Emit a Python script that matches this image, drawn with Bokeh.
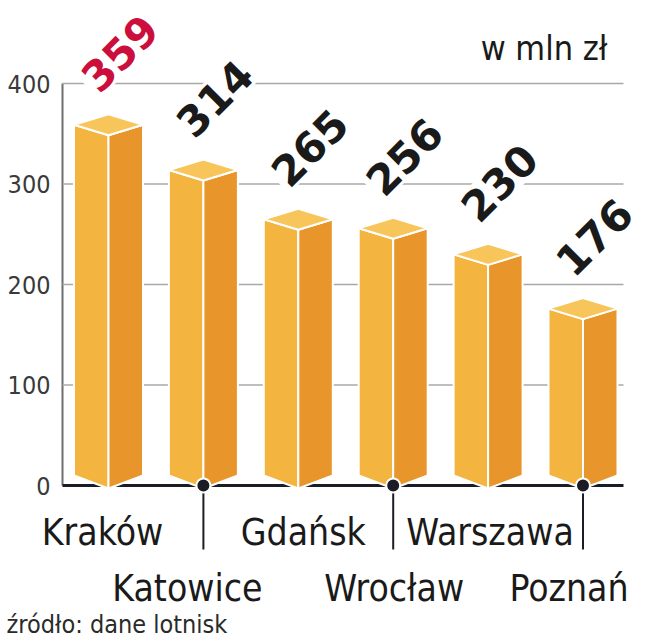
import math
from bokeh.plotting import figure
from bokeh.models import Range1d, ColumnDataSource
from bokeh.core.properties import value
from bokeh.embed import file_html
from bokeh.resources import INLINE

# ---- data ----
cities = ["Kraków", "Katowice", "Gdańsk", "Wrocław", "Warszawa", "Poznań"]
values = [359, 314, 265, 256, 230, 176]
y_ticks = [0, 100, 200, 300, 400]
tick_labels = ["0", "100", "200", "300", "400"]
unit_label = "w mln zł"
source_note = "źródło: dane lotnisk"

# ---- layout (page pixel positions -> data units) ----
W, H = 647, 640
PX_X = 94.9
X0 = -108 / PX_X
X1 = X0 + W / PX_X
PX_Y = 1.005
Y1 = 485 / PX_Y
Y0 = -(H - 485) / PX_Y


def dx(px):
    return px / PX_X


def dy(px):
    return px / PX_Y


def xpage(px):
    return X0 + dx(px)


def ypage(py):
    return (485 - py) / PX_Y


FRONT = "#F3B440"
SIDE = "#E8962C"
TOP = "#F7C55A"
DARK = "#1c1c24"
TXT = "#1a1a1a"
RED = "#CC0E3D"
COND = value("DejaVu Sans Condensed")

p = figure(width=W, height=H, x_range=Range1d(X0, X1), y_range=Range1d(Y0, Y1),
           output_backend="svg", toolbar_location=None,
           x_axis_location=None, y_axis_location=None,
           min_border_left=0, min_border_right=0, min_border_top=0, min_border_bottom=0)
p.outline_line_color = None
p.grid.visible = False
p.background_fill_color = "white"

n = len(values)
xs_idx = list(range(n))

# y axis line and tick labels
axis_x = xpage(62)
p.segment(x0=[axis_x], y0=[y_ticks[0]], x1=[axis_x], y1=[y_ticks[-1]],
          line_color="#6e6e6e", line_width=2)
p.text(x=[xpage(50)] * len(y_ticks), y=y_ticks, text=tick_labels,
       text_font=COND, text_font_size="25px", text_color="#3a3a3a",
       text_align="right", text_baseline="middle")

# gridlines (ticks above 0) and dark baseline
x_grid_end = xpage(623)
grid_vals = [t for t in y_ticks if t > 0]
p.segment(x0=[axis_x] * len(grid_vals), y0=grid_vals, x1=[x_grid_end] * len(grid_vals), y1=grid_vals,
          line_color="#a8a8a8", line_width=1.6)
p.segment(x0=[axis_x], y0=[0], x1=[x_grid_end], y1=[0], line_color=DARK, line_width=3)

# value labels (rotated)
label_colors = [RED] + [TXT] * (n - 1)
d = dy(10.5)
vsrc = ColumnDataSource(dict(
    x=[i + dx(-22) for i in xs_idx],
    y=[v + d + dy(28) for v in values],
    text=[str(v) for v in values],
    color=label_colors,
))
p.text(x="x", y="y", text="text", source=vsrc, angle=math.pi / 4,
       text_font=value("DejaVu Sans"), text_font_style="bold", text_font_size="42px",
       text_color="color", text_align="left", text_baseline="alphabetic",
       background_fill_color="white", padding=3)

# 3D bars
hw = dx(34.5)
bot_corner = dy(10)
bot_center = -dy(3)
front_xs, front_ys, side_xs, side_ys, top_xs, top_ys = [], [], [], [], [], []
for i, v in zip(xs_idx, values):
    front_xs.append([i - hw, i - hw, i, i])
    front_ys.append([bot_corner, v, v - d, bot_center])
    side_xs.append([i, i, i + hw, i + hw])
    side_ys.append([bot_center, v - d, v, bot_corner])
    top_xs.append([i - hw, i, i + hw, i])
    top_ys.append([v, v - d, v, v + d])
p.patches(front_xs, front_ys, fill_color=FRONT, line_color="white", line_width=2)
p.patches(side_xs, side_ys, fill_color=SIDE, line_color="white", line_width=2)
p.patches(top_xs, top_ys, fill_color=TOP, line_color="white", line_width=2)

# markers for second-row labels
rows = [0, 1, 0, 1, 0, 1]
marked = [i for i in xs_idx if rows[i] == 1]
p.segment(x0=marked, y0=[0] * len(marked), x1=marked, y1=[ypage(549)] * len(marked),
          line_color=DARK, line_width=2)
p.scatter(x=marked, y=[0] * len(marked), size=14, fill_color=DARK, line_color="white", line_width=2)

# category labels
offsets_px = [-6, -16, 5, 1, 2, -14]
row_y = [ypage(532), ypage(588)]
csrc = ColumnDataSource(dict(
    x=[i + dx(o) for i, o in zip(xs_idx, offsets_px)],
    y=[row_y[r] for r in rows],
    text=cities,
))
p.text(x="x", y="y", text="text", source=csrc, text_align="center",
       text_baseline="alphabetic", text_font=COND, text_font_size="37px",
       text_color=TXT)

# unit label
p.text(x=[xpage(607)], y=[ypage(47)], text=[unit_label], text_align="right",
       text_baseline="alphabetic", text_font=COND, text_font_size="34px", text_color=TXT)

# source note
p.text(x=[xpage(6)], y=[ypage(624)], text=[source_note], text_align="left",
       text_baseline="alphabetic", text_font=COND, text_font_size="25px", text_color="#2a2a2a")

open("out.html", "w").write(file_html(p, INLINE))
